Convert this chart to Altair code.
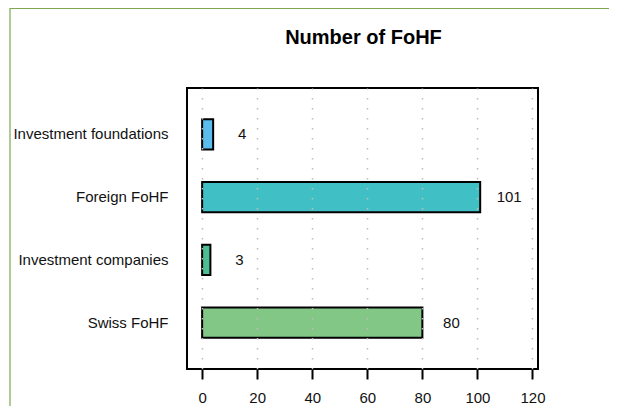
import altair as alt
import pandas as pd

categories = ["Investment foundations", "Foreign FoHF", "Investment companies", "Swiss FoHF"]
values = [4, 101, 3, 80]
colors = ["#5BBDEB", "#40C0C5", "#4DBE93", "#82C785"]
x_ticks = [0, 20, 40, 60, 80, 100, 120]
title_text = "Number of FoHF"

df = pd.DataFrame({"category": categories, "value": values})
one_df = pd.DataFrame({"title": [title_text]})

FONT = "Liberation Sans"
W, H = 351, 281
PAD_L, PAD_T, PAD_R, PAD_B = 179, 80, 71, 37

x_enc = alt.X(
    "value:Q",
    scale=alt.Scale(domain=[-5.5, 122], nice=False, zero=False),
    axis=alt.Axis(
        values=x_ticks, title=None, grid=True, gridColor="#bdbdbd", gridWidth=1.5,
        gridDash=[1.5, 8.5], domain=False, tickColor="black", tickWidth=2, tickSize=10,
        labelFont=FONT, labelFontSize=15, labelColor="#111111", labelPadding=11, zindex=1,
    ),
)
y_enc = alt.Y(
    "category:N",
    sort=categories,
    scale=alt.Scale(paddingInner=0.52, paddingOuter=0.4975),
    axis=alt.Axis(
        title=None, grid=False, ticks=False, domain=False, labelPadding=19,
        labelFont=FONT, labelFontSize=15, labelColor="#111111",
    ),
)

bars = alt.Chart(df).mark_bar(stroke="black", strokeWidth=2).encode(
    x=x_enc,
    x2=alt.datum(0),
    y=y_enc,
    color=alt.Color("category:N", scale=alt.Scale(domain=categories, range=colors), legend=None),
)

labels = alt.Chart(df).mark_text(
    align="center", baseline="middle", dx=29, font=FONT, fontSize=15, color="#111111"
).encode(
    x="value:Q",
    y=alt.Y("category:N", sort=categories),
    text="value:Q",
)

title = alt.Chart(one_df).mark_text(
    align="center", baseline="alphabetic", font=FONT, fontSize=20, fontWeight="bold", color="black"
).encode(x=alt.value(W / 2 + 1), y=alt.value(-44), text="title:N")

frame_left = alt.Chart(one_df).mark_rule(color="#7FA650", strokeWidth=1.2).encode(
    x=alt.value(-177), y=alt.value(-80), y2=alt.value(H + PAD_B)
)
frame_top = alt.Chart(one_df).mark_rule(color="#7FA650", strokeWidth=1.2).encode(
    x=alt.value(-177), x2=alt.value(W + PAD_R), y=alt.value(-79.5)
)

chart = alt.layer(bars, labels, title, frame_left, frame_top).properties(
    width=W,
    height=H,
    background="white",
    autosize=alt.AutoSizeParams(type="none"),
    padding={"left": PAD_L, "top": PAD_T, "right": PAD_R, "bottom": PAD_B},
).configure_view(stroke="black", strokeWidth=2)

chart.save("out.html", embed_options={"renderer": "svg", "actions": False})
